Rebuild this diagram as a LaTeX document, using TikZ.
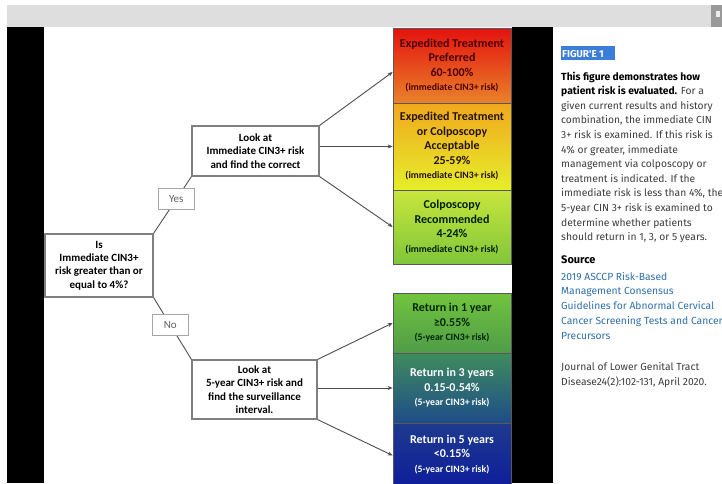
\documentclass[tikz,border=0pt]{standalone}
\usepackage{fontspec}
\setmainfont{Carlito}
\newfontfamily\panelfont{Fira Sans}
\usetikzlibrary{arrows.meta}

\definecolor{bargrey}{HTML}{DEDEDE}
\definecolor{boxgrey}{HTML}{7F7F7F}
\definecolor{linegrey}{HTML}{4D4D4D}
\definecolor{choicegrey}{HTML}{A6A6A6}
\definecolor{textgrey}{HTML}{3C3C3C}
\definecolor{linkblue}{HTML}{2F6FA8}
\definecolor{hlblue}{HTML}{3C7DDA}
% gradient colours of the risk boxes
\definecolor{eptTop}{HTML}{E4120E}
\definecolor{eptBot}{HTML}{E9822A}
\definecolor{etaTop}{HTML}{F0A81E}
\definecolor{etaBot}{HTML}{E6EE2A}
\definecolor{colTop}{HTML}{C8E63C}
\definecolor{colBot}{HTML}{80C63A}
\definecolor{oneTop}{HTML}{72C43E}
\definecolor{oneBot}{HTML}{4E9C48}
\definecolor{thrTop}{HTML}{3E8C5E}
\definecolor{thrBot}{HTML}{1E4C88}
\definecolor{fivTop}{HTML}{1E3A8E}
\definecolor{fivBot}{HTML}{0E1E9A}

\begin{document}
\begin{tikzpicture}[x=1pt,y=-1pt,
    flow/.style={draw=boxgrey,line width=1.1pt,fill=white,align=center,
      font=\bfseries\fontsize{11}{13.4}\selectfont,text=black,inner sep=1pt},
    choice/.style={draw=choicegrey,line width=0.8pt,fill=white,
      font=\fontsize{11}{12}\selectfont,text=linegrey!90,
      minimum width=36pt,minimum height=21pt,inner sep=1pt},
    risk/.style={draw=boxgrey!70!black,line width=0.7pt,align=center,
      minimum width=118pt,inner sep=1pt,
      font=\bfseries\fontsize{12}{14.5}\selectfont},
    conn/.style={draw=linegrey,line width=0.9pt},
    arr/.style={conn,-{Stealth[length=5pt,width=4pt]}}]

  \useasboundingbox (0,0) rectangle (722,483);

  % Screen background
  \fill[bargrey] (7,5) rectangle (711,27);
  \fill[gray!80] (711,5) rectangle (722,27);
  \fill[white!85!gray] (716,11) rectangle (720,17);
  \fill[black] (7,27) rectangle (44,483);
  \fill[black] (512,27) rectangle (553,483);

  % Risk boxes, immediate risk
  \node[risk,top color=eptTop,bottom color=eptBot,text=red!30!black,minimum height=75pt]
    (ept) at (452,65.5) {Expedited Treatment\\Preferred\\60-100\%\\{\fontsize{9.8}{14.5}\selectfont (immediate CIN3+ risk)}};
  \node[risk,top color=etaTop,bottom color=etaBot,text=black!85!orange,minimum height=87pt]
    (eta) at (452,146.5) {Expedited Treatment\\or Colposcopy\\Acceptable\\25-59\%\\{\fontsize{9.8}{14.5}\selectfont (immediate CIN3+ risk)}};
  \node[risk,top color=colTop,bottom color=colBot,text=black!88!green,minimum height=74pt]
    (colpo) at (452,227) {Colposcopy\\Recommended\\4-24\%\\{\fontsize{9.8}{14.5}\selectfont (immediate CIN3+ risk)}};

  % Risk boxes, 5-year risk
  \node[risk,top color=oneTop,bottom color=oneBot,text=black!85!green,minimum height=60pt]
    (ret1) at (452,323) {Return in 1 year\\≥0.55\%\\{\fontsize{9.8}{14.5}\selectfont (5-year CIN3+ risk)}};
  \node[risk,top color=thrTop,bottom color=thrBot,text=white,minimum height=70pt]
    (ret3) at (452,388) {Return in 3 years\\0.15-0.54\%\\{\fontsize{9.8}{14.5}\selectfont (5-year CIN3+ risk)}};
  \node[risk,top color=fivTop,bottom color=fivBot,text=white,minimum height=63pt]
    (ret5) at (452,454.5) {Return in 5 years\\<0.15\%\\{\fontsize{9.8}{14.5}\selectfont (5-year CIN3+ risk)}};

  % Decision boxes
  \node[flow,minimum width=108pt,minimum height=63pt] (quest) at (99,265.5)
    {Is\\Immediate CIN3+\\risk greater than or\\equal to 4\%?};
  \node[flow,minimum width=127pt,minimum height=50pt] (look1) at (255.5,151)
    {Look at\\Immediate CIN3+ risk\\and find the correct};
  \node[flow,minimum width=125pt,minimum height=59pt] (look5) at (254.5,389.5)
    {Look at\\5-year CIN3+ risk and\\find the surveillance\\interval.};

  % Yes / No branches
  \draw[conn] (quest.north east) -- node[choice,pos=0.6] (yes) {Yes} (look1.south west);
  \draw[conn] (quest.south east) -- node[choice,pos=0.44] (no) {No} (look5.north west);

  % Arrows to the risk boxes
  \draw[arr] (look1.north east) -- ([yshift=-6.5pt]ept.west);
  \draw[arr] (look1.east |- eta.west) -- (eta.west);
  \draw[arr] (look1.south east) -- (colpo.west);
  \draw[arr] (look5.north east) -- (ret1.west);
  \draw[arr] (look5.east |- ret3.west) -- (ret3.west);
  \draw[arr] (look5.south east) -- ([yshift=-1pt]ret5.west);

  % Side panel
  \begin{scope}
    \clip (553,27) rectangle (722,483);
    \fill[hlblue] (561,46) rectangle (615,60);
    \node[anchor=base west,inner sep=0pt,text=white,font=\panelfont\bfseries\fontsize{10}{11}\selectfont]
      (fig) at (562,57) {FIGUR'E 1};
    \node[anchor=base west,inner sep=0pt,font=\panelfont\bfseries\fontsize{10.3}{12}\selectfont]
      (para0) at (561,80) {This figure demonstrates how};
    \node[anchor=base west,inner sep=0pt,font=\panelfont\fontsize{10.3}{12}\selectfont,text=textgrey]
      (para1) at (561,94.6) {\textcolor{black}{\bfseries patient risk is evaluated.} For a};
    \foreach \txt [count=\i from 2] in {{given current results and history},
        {combination, the immediate CIN},{3+ risk is examined. If this risk is},
        {4\% or greater, immediate},{management via colposcopy or},
        {treatment is indicated. If the},{immediate risk is less than 4\%, the},
        {5-year CIN 3+ risk is examined to},{determine whether patients},
        {should return in 1, 3, or 5 years.}} {
      \node[anchor=base west,inner sep=0pt,font=\panelfont\fontsize{10.3}{12}\selectfont,text=textgrey]
        (para\i) at (561,80+14.6*\i) {\txt};
    }
    \node[anchor=base west,inner sep=0pt,font=\panelfont\bfseries\fontsize{11}{13}\selectfont]
      (src) at (561,263) {Source};
    \foreach \txt [count=\i from 0] in {{2019 ASCCP Risk-Based},{Management Consensus},
        {Guidelines for Abnormal Cervical},{Cancer Screening Tests and Cancer},{Precursors}} {
      \node[anchor=base west,inner sep=0pt,font=\panelfont\fontsize{10.3}{12}\selectfont,text=linkblue]
        (link\i) at (561,280+14.8*\i) {\txt};
    }
    \node[anchor=base west,inner sep=0pt,font=\panelfont\fontsize{10.3}{12}\selectfont,text=textgrey]
      (jour0) at (561,370) {Journal of Lower Genital Tract};
    \node[anchor=base west,inner sep=0pt,font=\panelfont\fontsize{10.3}{12}\selectfont,text=textgrey]
      (jour1) at (561,385) {Disease24(2):102-131, April 2020.};
  \end{scope}

\end{tikzpicture}
\end{document}
